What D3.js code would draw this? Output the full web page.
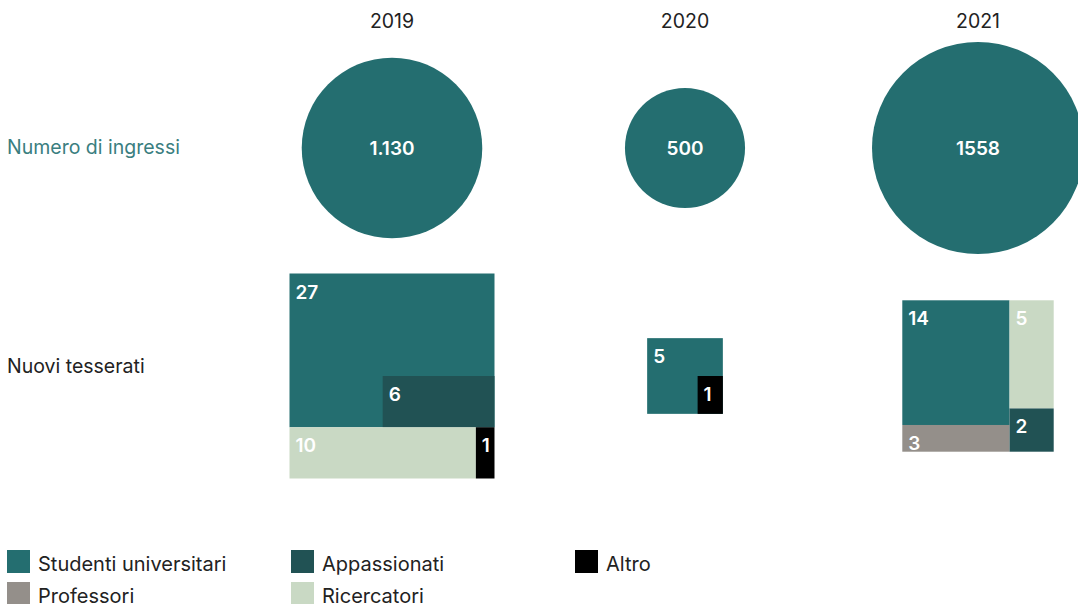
<!DOCTYPE html>
<html>
<head>
<meta charset="utf-8">
<script src="https://cdn.jsdelivr.net/npm/d3@7"></script>
<style>
  html, body { margin: 0; padding: 0; background: #fff; }
  svg { display: block; font-family: Inter, "Noto Sans", sans-serif; }
</style>
</head>
<body>
<svg id="chart" width="1078" height="604"></svg>
<script>
// Years shown as columns
const years = ["2019", "2020", "2021"];

// Visits per year (circle area)
const ingressi = [1130, 500, 1558];
const ingressiLabels = ["1.130", "500", "1558"];

// New members per year, by category
const studenti     = [27, 5, 14];
const appassionati = [6, 0, 2];
const ricercatori  = [10, 0, 5];
const professori   = [0, 0, 3];
const altro        = [1, 1, 0];

const categoryKeys   = ["studenti", "appassionati", "altro", "professori", "ricercatori"];
const categoryNames  = ["Studenti universitari", "Appassionati", "Altro", "Professori", "Ricercatori"];
const categoryColors = ["#246e70", "#215254", "#000000", "#948f8a", "#c9d9c4"];

const seriesByKey = { studenti, appassionati, ricercatori, professori, altro };
const colorByKey = Object.fromEntries(categoryKeys.map((k, i) => [k, categoryColors[i]]));

// How each year's square is subdivided
const plans = [
  { split: "rows", groups: [
      { inset: ["studenti", "appassionati"], frac: 1 / 3 },
      { split: "cols", keys: ["ricercatori", "altro"] }
  ]},
  { inset: ["studenti", "altro"], frac: 1 / 2 },
  { split: "cols", groups: [
      { split: "rows", keys: ["studenti", "professori"] },
      { split: "rows", keys: ["ricercatori", "appassionati"] }
  ]}
];

const svg = d3.select("#chart");

const x = d3.scalePoint().domain(years).range([392, 978]);
const r = d3.scaleSqrt().domain([0, d3.max(ingressi)]).range([0, 106]);
const totals = years.map((_, i) => categoryKeys.reduce((s, k) => s + seriesByKey[k][i], 0));
const side = d3.scaleSqrt().domain([0, d3.max(totals)]).range([0, 205]);

const circleY = 148;
const squareY = 376;

// Year headers
svg.selectAll("text.year").data(years).join("text")
  .attr("class", "year")
  .attr("x", d => x(d)).attr("y", 28)
  .attr("text-anchor", "middle")
  .attr("font-size", 19.5).attr("fill", "#222")
  .text(d => d);

// Row labels
svg.append("text").attr("x", 7).attr("y", 154)
  .attr("font-size", 19.5).attr("fill", "#3a7e80")
  .text("Numero di ingressi");
svg.append("text").attr("x", 7).attr("y", 373)
  .attr("font-size", 19.5).attr("fill", "#222")
  .text("Nuovi tesserati");

// Circles
const cg = svg.selectAll("g.circ").data(years).join("g").attr("class", "circ");
cg.append("circle")
  .attr("cx", d => x(d)).attr("cy", circleY)
  .attr("r", (d, i) => r(ingressi[i]))
  .attr("fill", "#246e70");
cg.append("text")
  .attr("x", d => x(d)).attr("y", circleY + 7)
  .attr("text-anchor", "middle")
  .attr("font-size", 19).attr("font-weight", 600).attr("fill", "#fff")
  .text((d, i) => ingressiLabels[i]);

// Recursive subdivision of a square into category rectangles
function sumNode(node, i) {
  if (node.keys) return d3.sum(node.keys, k => seriesByKey[k][i]);
  if (node.inset) return d3.sum(node.inset, k => seriesByKey[k][i]);
  return d3.sum(node.groups, g => sumNode(g, i));
}
function layout(node, i, x0, y0, x1, y1, out) {
  if (node.inset) {
    const [mainKey, cornerKey] = node.inset;
    out.push({ key: mainKey, value: seriesByKey[mainKey][i], x0, y0, x1, y1 });
    const total = sumNode(node, i);
    const area = (x1 - x0) * (y1 - y0) * seriesByKey[cornerKey][i] / total;
    const h = (y1 - y0) * node.frac;
    const w = area / h;
    out.push({ key: cornerKey, value: seriesByKey[cornerKey][i], x0: x1 - w, y0: y1 - h, x1, y1 });
    return out;
  }
  const parts = node.keys
    ? node.keys.map(k => ({ leaf: k, v: seriesByKey[k][i] }))
    : node.groups.map(g => ({ group: g, v: sumNode(g, i) }));
  const total = d3.sum(parts, p => p.v);
  let pos = node.split === "rows" ? y0 : x0;
  parts.forEach(p => {
    const span = (node.split === "rows" ? (y1 - y0) : (x1 - x0)) * p.v / total;
    const rx0 = node.split === "rows" ? x0 : pos;
    const ry0 = node.split === "rows" ? pos : y0;
    const rx1 = node.split === "rows" ? x1 : pos + span;
    const ry1 = node.split === "rows" ? pos + span : y1;
    if (p.leaf) out.push({ key: p.leaf, value: p.v, x0: rx0, y0: ry0, x1: rx1, y1: ry1 });
    else layout(p.group, i, rx0, ry0, rx1, ry1, out);
    pos += span;
  });
  return out;
}

years.forEach((yr, i) => {
  const s = side(totals[i]);
  const sx = x(yr) - s / 2, sy = squareY - s / 2;
  const cells = layout(plans[i], i, sx, sy, sx + s, sy + s, []);
  const g = svg.append("g");
  g.selectAll("rect").data(cells).join("rect")
    .attr("x", d => d.x0).attr("y", d => d.y0)
    .attr("width", d => d.x1 - d.x0).attr("height", d => d.y1 - d.y0)
    .attr("fill", d => colorByKey[d.key]);
  g.selectAll("text").data(cells).join("text")
    .attr("x", d => d.x0 + 6).attr("y", d => d.y0 + 25)
    .attr("font-size", 19).attr("font-weight", 600).attr("fill", "#fff")
    .text(d => d.value);
});

// Legend
const legendCols = [7, 291, 575];
const legendRows = [550, 582];
const legendPos = [[0, 0], [1, 0], [2, 0], [0, 1], [1, 1]];
const lg = svg.selectAll("g.leg").data(categoryNames).join("g").attr("class", "leg")
  .attr("transform", (d, i) => `translate(${legendCols[legendPos[i][0]]},${legendRows[legendPos[i][1]]})`);
lg.append("rect").attr("width", 23).attr("height", 23)
  .attr("fill", (d, i) => categoryColors[i]);
lg.append("text").attr("x", 31).attr("y", 21)
  .attr("font-size", 20).attr("fill", "#222")
  .text(d => d);
</script>
</body>
</html>
